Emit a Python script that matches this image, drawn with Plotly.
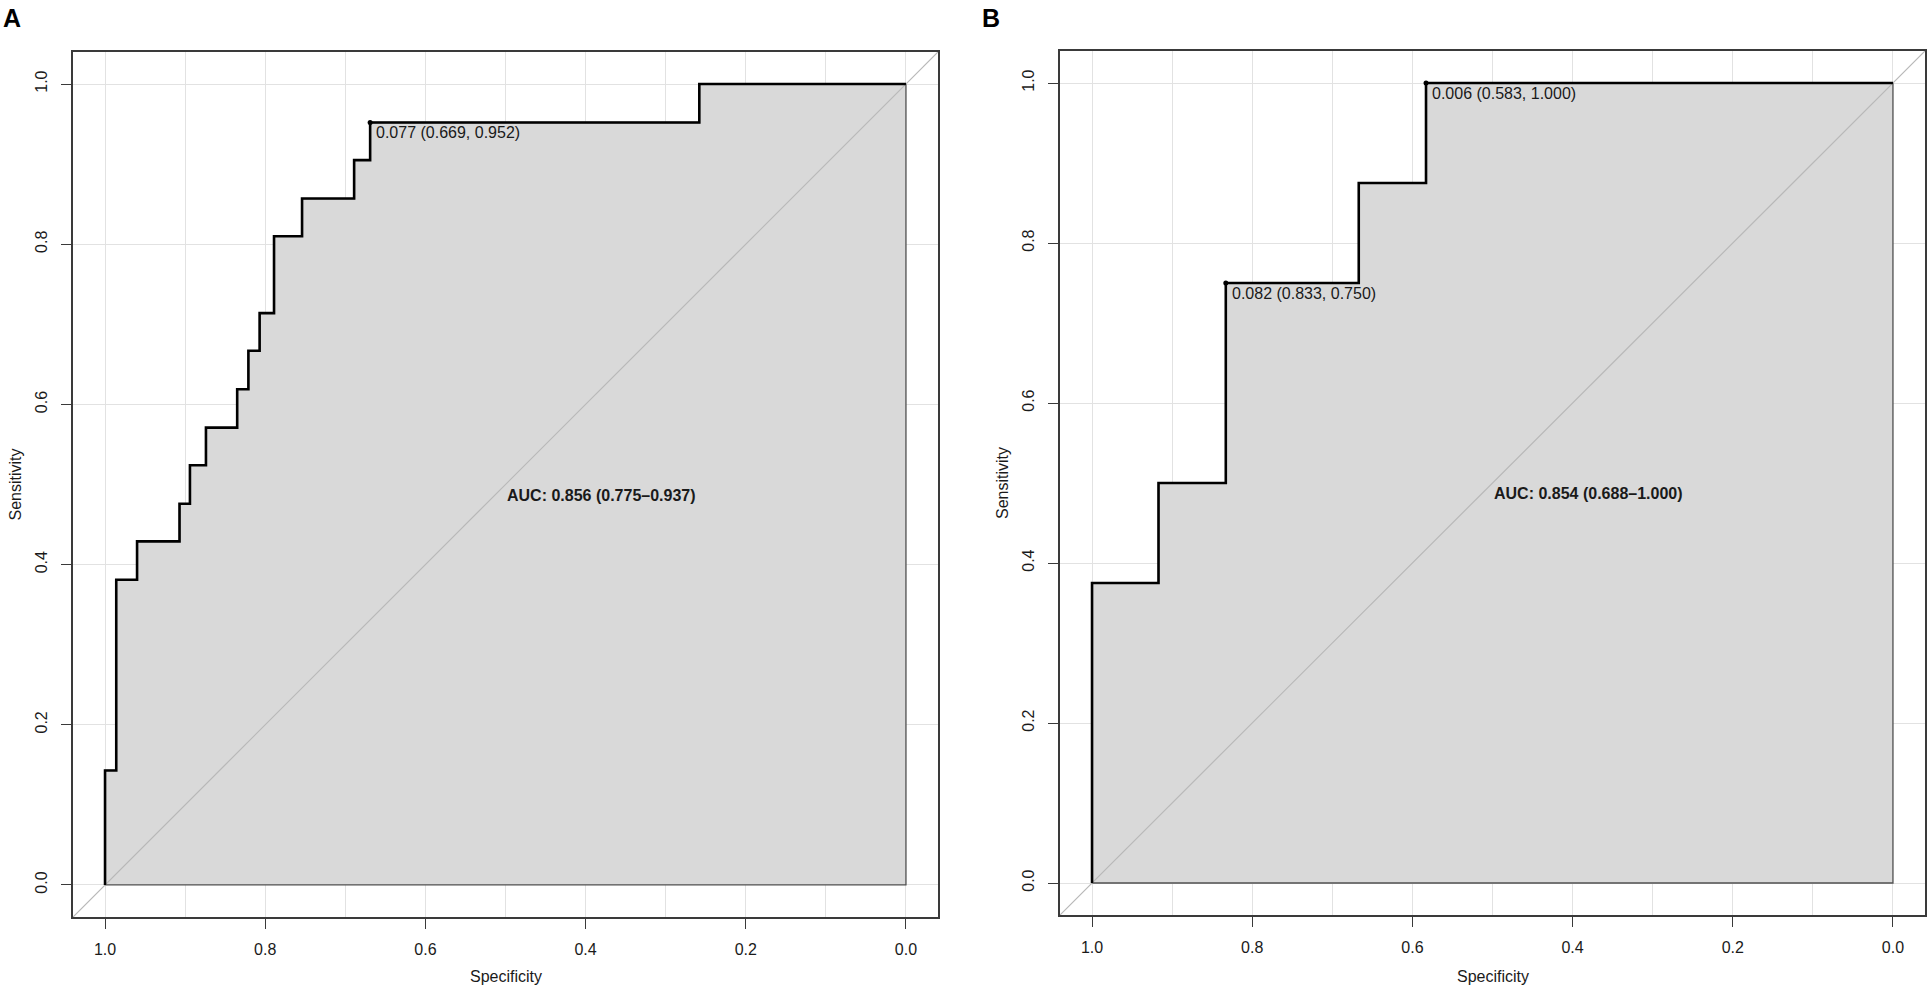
import plotly.graph_objects as go

# ROC curve corner points (specificity, sensitivity)
spec_a = [1.0, 0.986, 0.960, 0.907, 0.894, 0.874, 0.835, 0.821, 0.807, 0.789, 0.754, 0.689, 0.669, 0.258, 0.0]
sens_a = [0.0, 0.143, 0.381, 0.429, 0.476, 0.524, 0.571, 0.619, 0.667, 0.714, 0.810, 0.857, 0.905, 0.952, 1.0]

spec_b = [1.0, 0.917, 0.833, 0.667, 0.583, 0.0]
sens_b = [0.0, 0.375, 0.500, 0.750, 0.875, 1.0]

# best thresholds: (threshold, specificity, sensitivity)
thr_a = [(0.077, 0.669, 0.952)]
thr_b = [(0.082, 0.833, 0.750), (0.006, 0.583, 1.000)]

auc_a = "AUC: 0.856 (0.775–0.937)"
auc_b = "AUC: 0.854 (0.688–1.000)"

tick_vals = [0.0, 0.2, 0.4, 0.6, 0.8, 1.0]
tick_text = ["0.0", "0.2", "0.4", "0.6", "0.8", "1.0"]

W, H = 1928, 990
FONT = "Liberation Sans, Arial, Helvetica, sans-serif"
LO, HI = -0.04, 1.04
BOX = "#3a3a3a"
GRID = "#e2e2e2"

fig = go.Figure()


def add_panel(spec, sens, thr, auc, n, dom_x, dom_y, letter, letter_x):
    xr = "x" if n == 1 else "x%d" % n
    yr = "y" if n == 1 else "y%d" % n

    # AUC polygon
    fig.add_trace(go.Scatter(
        x=spec + [0.0, 1.0], y=sens + [0.0, 0.0], xaxis=xr, yaxis=yr,
        mode="lines", line=dict(shape="vh", color="#505050", width=1.3),
        fill="toself", fillcolor="#d9d9d9", hoverinfo="skip", showlegend=False))

    # identity line
    fig.add_trace(go.Scatter(
        x=[HI, LO], y=[LO, HI], xaxis=xr, yaxis=yr, mode="lines",
        line=dict(color="#b8b8b8", width=1.2), hoverinfo="skip", showlegend=False))

    # ROC curve
    fig.add_trace(go.Scatter(
        x=spec, y=sens, xaxis=xr, yaxis=yr, mode="lines",
        line=dict(shape="vh", color="black", width=2.6), showlegend=False))

    # thresholds
    fig.add_trace(go.Scatter(
        x=[t[1] for t in thr], y=[t[2] for t in thr], xaxis=xr, yaxis=yr,
        mode="markers", marker=dict(color="black", size=5), showlegend=False))
    for t, sp, se in thr:
        fig.add_annotation(x=sp, y=se, xref=xr, yref=yr,
                           text="%.3f (%.3f, %.3f)" % (t, sp, se),
                           showarrow=False, xanchor="left", yanchor="top", xshift=4,
                           font=dict(family=FONT, size=16, color="#1a1a1a"))

    fig.add_annotation(x=0.5, y=0.5, xref=xr, yref=yr, text="<b>%s</b>" % auc,
                       showarrow=False, xanchor="left", yanchor="top", xshift=-1,
                       font=dict(family=FONT, size=16, color="#1a1a1a"))

    # axis titles
    fig.add_annotation(x=0.5, y=1 - 976 / H, xref=xr, yref="paper", text="Specificity",
                       showarrow=False, xanchor="center", yanchor="middle",
                       font=dict(family=FONT, size=16, color="#1a1a1a"))
    fig.add_annotation(x=dom_x[0] - 58 / W, y=0.5, xref="paper", yref=yr, text="Sensitivity",
                       showarrow=False, textangle=-90, xanchor="center", yanchor="middle",
                       font=dict(family=FONT, size=16, color="#1a1a1a"))

    # panel letter
    fig.add_annotation(x=letter_x, y=1 - 2 / H, xref="paper", yref="paper",
                       text="<b>%s</b>" % letter, showarrow=False,
                       xanchor="left", yanchor="top",
                       font=dict(family=FONT, size=25, color="black"))

    common = dict(showline=True, linecolor=BOX, linewidth=1.6, mirror=True,
                  ticks="outside", ticklen=10, tickwidth=1.4, tickcolor=BOX,
                  tickvals=tick_vals, ticktext=tick_text,
                  showgrid=True, gridcolor=GRID, gridwidth=1, zeroline=False,
                  tickfont=dict(family=FONT, size=16, color="#1a1a1a"))
    xkey = "xaxis" if n == 1 else "xaxis%d" % n
    ykey = "yaxis" if n == 1 else "yaxis%d" % n
    fig.update_layout(**{
        xkey: dict(common, domain=dom_x, range=[HI, LO], anchor=yr,
                   ticklabelstandoff=7,
                   minor=dict(dtick=0.1, tick0=0, showgrid=True, gridcolor=GRID,
                              gridwidth=1, ticks="")),
        ykey: dict(common, domain=dom_y, range=[LO, HI], anchor=xr,
                   tickangle=-90, ticklabelstandoff=8),
    })


add_panel(spec_a, sens_a, thr_a, auc_a, 1,
          [73 / W, 938 / W], [1 - 917 / H, 1 - 52 / H], "A", 1 / W)
add_panel(spec_b, sens_b, thr_b, auc_b, 2,
          [1060 / W, 1925 / W], [1 - 915 / H, 1 - 51 / H], "B", 980 / W)

fig.update_layout(
    width=W, height=H,
    margin=dict(l=0, r=0, t=0, b=0),
    paper_bgcolor="white", plot_bgcolor="white",
    font=dict(family=FONT, size=16, color="#1a1a1a"),
    showlegend=False,
)

# drop the page's default body margin so the figure sits at the window corner
fig.write_html("out.html", config={"displayModeBar": False},
               post_script="document.body.style.margin='0';document.body.style.overflow='hidden';")
